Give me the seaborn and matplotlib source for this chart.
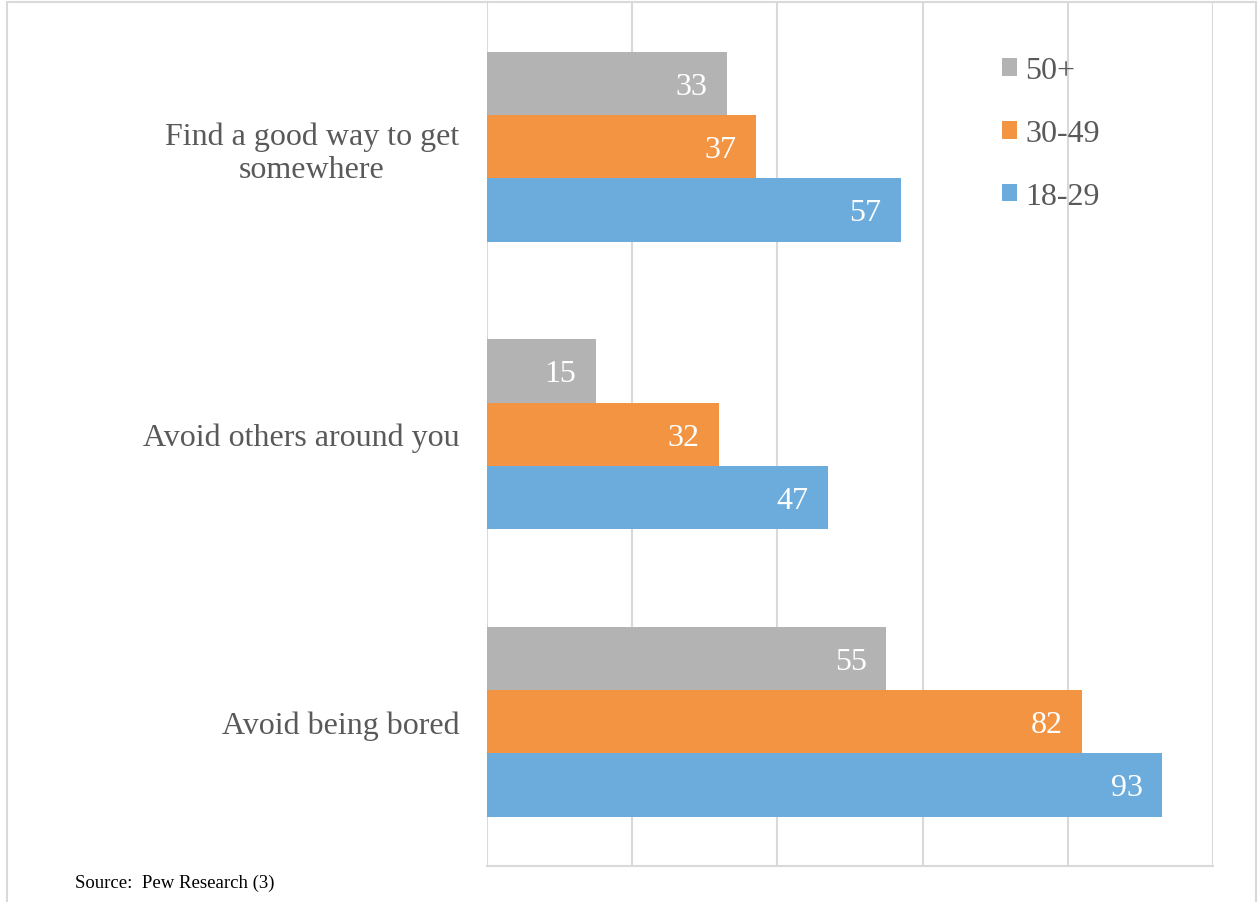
import matplotlib
matplotlib.use("Agg")
import matplotlib.pyplot as plt
import seaborn as sns
import pandas as pd
from matplotlib.patches import Rectangle

categories = ["Find a good way to get\nsomewhere", "Avoid others around you", "Avoid being bored"]
ages = ["50+", "30-49", "18-29"]
vals_50 = [33, 15, 55]
vals_30 = [37, 32, 82]
vals_18 = [57, 47, 93]
colors = ["#B3B3B3", "#F29441", "#6BACDD"]

rows = []
for age, vals in zip(ages, [vals_50, vals_30, vals_18]):
    for cat, v in zip(categories, vals):
        rows.append({"category": cat, "age": age, "value": v})
df = pd.DataFrame(rows)

sns.set_style("white")
plt.rcParams["font.family"] = ["Liberation Serif", "DejaVu Serif"]

fig = plt.figure(figsize=(12.58, 9.03), dpi=100)
ax = fig.add_axes([487/1258, 36.5/903, 726/1258, 862.5/903])

sns.barplot(data=df, x="value", y="category", hue="age", hue_order=ages,
            order=categories, palette=colors, saturation=1, width=0.66,
            orient="h", linewidth=0, ax=ax)

ax.set_xlim(0, 100)
ax.set_ylim(2.5, -0.5)
ax.set_xticks(range(0, 101, 20))
ax.set_xticklabels([])
ax.grid(axis="x", color="#D9D9D9", linewidth=1.5)
ax.set_axisbelow(True)
ax.set_xlabel("")
ax.set_ylabel("")
for s in ["top", "right", "left"]:
    ax.spines[s].set_visible(False)
ax.spines["bottom"].set_color("#D9D9D9")
ax.spines["bottom"].set_linewidth(1.5)
ax.tick_params(axis="x", length=0)
ax.tick_params(axis="y", length=0, pad=20, labelsize=23, labelcolor="#595959")
for lbl in ax.get_yticklabels():
    lbl.set_multialignment("center")

# value labels inside bar ends
for cont in ax.containers:
    for p in cont.patches:
        w = p.get_width()
        ax.annotate(f"{w:.0f}", (w, p.get_y() + p.get_height() / 2),
                    xytext=(-14, -2), textcoords="offset points",
                    ha="right", va="center", color="white", fontsize=23)

handles, labels = ax.get_legend_handles_labels()
ax.legend(handles, labels, loc="upper left", bbox_to_anchor=(0.692, 0.953),
          frameon=False, fontsize=23, labelcolor="#595959",
          handlelength=0.47, handleheight=0.47, handletextpad=0.25,
          labelspacing=1.06, borderaxespad=0)

fig.text(75/1258, 1 - 883/903, "Source:  Pew Research (3)", fontsize=13.5,
         color="black", ha="left", va="center")

fig.patches.append(Rectangle((7/1258, -0.01), (1256 - 7)/1258, 1 - 3/903 + 0.01,
                             transform=fig.transFigure, fill=False,
                             edgecolor="#D9D9D9", linewidth=1.5))

fig.savefig("out.png", dpi=100)
